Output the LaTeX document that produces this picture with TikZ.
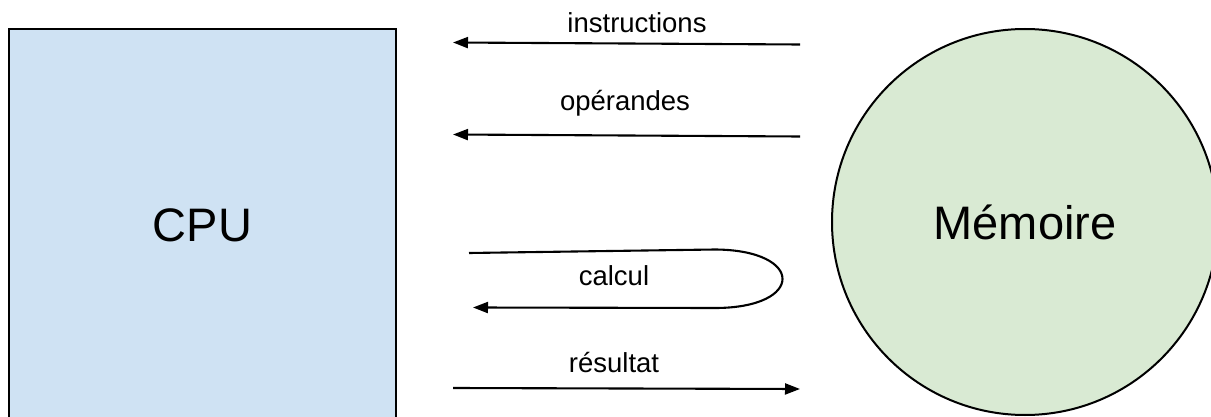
\documentclass[tikz,border=0pt]{standalone}
\usepackage{fontspec}
\setmainfont{Liberation Sans}
\usetikzlibrary{arrows.meta}
\definecolor{cpufill}{HTML}{CFE2F3}
\definecolor{memfill}{HTML}{D9EAD3}
\tikzset{
  unit/.style={draw=black, line width=2pt, inner sep=0pt, font=\fontsize{47}{47}\selectfont},
  cpubox/.style={unit, rectangle, fill=cpufill, minimum width=387pt, minimum height=393pt},
  membox/.style={unit, circle, fill=memfill, minimum size=386pt},
  flow/.style={line width=2.1pt, -{Triangle[length=15pt,width=11pt]}},
  lbl/.style={font=\fontsize{27.5}{27.5}\selectfont, anchor=base, inner sep=0pt}
}
\begin{document}
\begin{tikzpicture}[x=1pt,y=-1pt]
  \useasboundingbox (0,0) rectangle (1211,417);
  \clip (0,0) rectangle (1211,417);
  % the two units
  \node[cpubox] (cpu) at (202.5,225.5) {CPU};
  \node[membox] (mem) at (1025,222) {\raisebox{-3pt}{Mémoire}};
  % end points of the exchanges
  \coordinate (i1) at (800,44.5);  \coordinate (i0) at (453,42.5);
  \coordinate (o1) at (800,136.5); \coordinate (o0) at (453,134.5);
  \coordinate (c0) at (469,253);   \coordinate (c1) at (473,307.5);
  \coordinate (r0) at (453,388);   \coordinate (r1) at (800,389);
  % labels
  \node[lbl] (tI) at (637,33) {instructions};
  \node[lbl] (tO) at (625,111) {opérandes};
  \node[lbl] (tC) at (614,285) {calcul};
  \node[lbl] (tR) at (614,372) {résultat};
  % transfers
  \draw[flow] (i1) -- (i0);
  \draw[flow] (o1) -- (o0);
  \draw[flow] (c0) -- (715,249.5) .. controls (805,250) and (805,308) .. (715,308) -- (c1);
  \draw[flow] (r0) -- (r1);
\end{tikzpicture}
\end{document}
